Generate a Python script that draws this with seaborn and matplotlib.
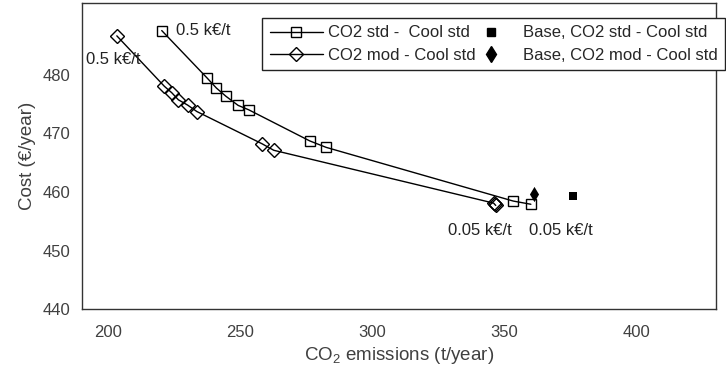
import matplotlib
matplotlib.use("Agg")
import matplotlib.pyplot as plt
import seaborn as sns
from matplotlib.lines import Line2D

# Pareto fronts: CO2 emissions (t/year) vs. cost (EUR/year)
std_emissions = [220.3, 237.5, 241.0, 244.6, 249.2, 253.2, 276.3, 282.5, 353.3, 360.0]
std_cost = [487.5, 479.4, 477.7, 476.3, 474.75, 474.0, 468.7, 467.6, 458.45, 457.9]

mod_emissions = [203.3, 221.3, 224.1, 226.6, 230.1, 233.6, 258.3, 262.7, 345.9, 346.3, 346.7]
mod_cost = [486.6, 478.0, 476.9, 475.7, 474.8, 473.7, 468.2, 467.1, 458.1, 457.9, 457.7]

base_std = (375.8, 459.3)
base_mod = (361.3, 459.6)

series_labels = ["CO2 std -  Cool std", "CO2 mod - Cool std",
                 "Base, CO2 std - Cool std", "Base, CO2 mod - Cool std"]
price_high = "0.5 k€/t"
price_low = "0.05 k€/t"

x_ticks = [200, 250, 300, 350, 400]
y_ticks = [440, 450, 460, 470, 480]

sns.set_theme(style="white")
plt.rcParams["font.family"] = ["Liberation Sans", "DejaVu Sans"]
plt.rcParams["mathtext.default"] = "regular"

fig = plt.figure(figsize=(7.26, 3.72), dpi=100)
ax = fig.add_axes([0.1125, 0.1685, 0.8735, 0.8235])

sns.lineplot(x=std_emissions, y=std_cost, sort=False, ax=ax, color="black",
             linewidth=1.0, marker="s", markersize=6.5, markerfacecolor="none",
             markeredgecolor="black", markeredgewidth=1.0)
sns.lineplot(x=mod_emissions, y=mod_cost, sort=False, ax=ax, color="black",
             linewidth=1.0, marker="D", markersize=6.8, markerfacecolor="none",
             markeredgecolor="black", markeredgewidth=1.0)
sns.scatterplot(x=[base_std[0]], y=[base_std[1]], ax=ax, marker="s", s=34,
                color="black", edgecolor="black", linewidth=0)
sns.scatterplot(x=[base_mod[0]], y=[base_mod[1]], ax=ax, marker="d", s=60,
                color="black", edgecolor="black", linewidth=0)

txt_kw = dict(fontsize=12, color="#222222", va="center", ha="left")
ax.text(std_emissions[0] + 5.3, std_cost[0], price_high, **txt_kw)
ax.text(191.6, 482.5, price_high, **txt_kw)
ax.text(328.7, 453.5, price_low, **txt_kw)
ax.text(359.3, 453.5, price_low, **txt_kw)

ax.set_xlim(190, 430)
ax.set_ylim(440, 492.2)
ax.set_xticks(x_ticks)
ax.set_yticks(y_ticks)
ax.tick_params(direction="in", length=4, width=0.8, colors="#333333",
               labelsize=12, labelcolor="#404040", pad=8)
ax.tick_params(axis="x", pad=11)
for side in ["top", "right", "bottom", "left"]:
    ax.spines[side].set_visible(True)
    ax.spines[side].set_color("#333333")
    ax.spines[side].set_linewidth(1.0)

ax.set_xlabel("CO$_2$ emissions (t/year)", fontsize=13.5, color="#404040", labelpad=4)
ax.set_ylabel("Cost (€/year)", fontsize=13.5, color="#404040", labelpad=5)

handles = [
    Line2D([], [], color="black", lw=1.0, marker="s", markersize=6.5,
           markerfacecolor="none", markeredgecolor="black"),
    Line2D([], [], color="black", lw=1.0, marker="D", markersize=6.8,
           markerfacecolor="none", markeredgecolor="black"),
    Line2D([], [], ls="none", marker="s", markersize=6, color="black"),
    Line2D([], [], ls="none", marker="d", markersize=8, color="black"),
]
leg = fig.legend(handles, series_labels, ncol=2, loc="upper left",
                 bbox_to_anchor=(0.361, 0.952, 0.638, 0.0), mode="expand",
                 fontsize=12, frameon=True, fancybox=False, framealpha=1,
                 edgecolor="#222222", handlelength=3.2, handletextpad=0.3,
                 borderpad=0.45, labelspacing=0.45, borderaxespad=0,
                 bbox_transform=fig.transFigure)
leg.get_frame().set_linewidth(1.0)

fig.savefig("out.png", dpi=100)
